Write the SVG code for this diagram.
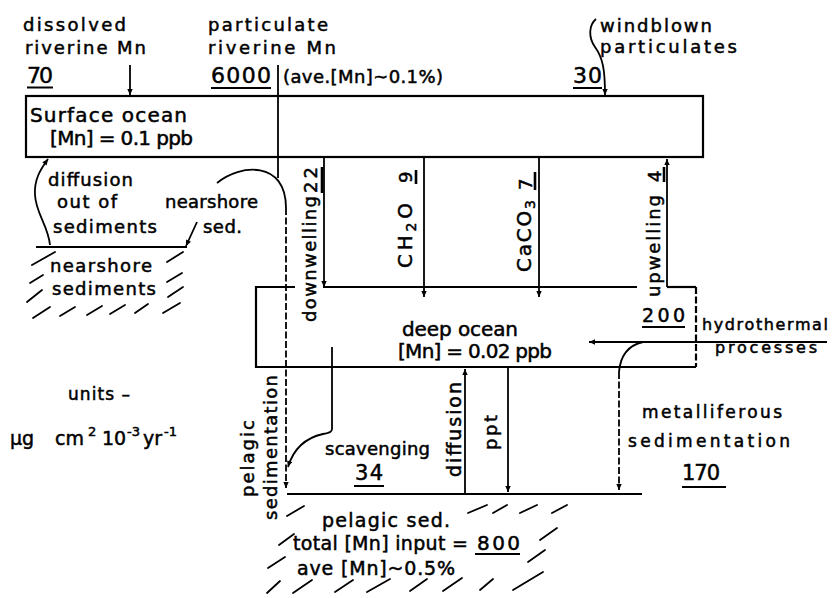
<svg xmlns="http://www.w3.org/2000/svg" width="833" height="598" viewBox="0 0 833 598">
<style>
.t{font-family:"DejaVu Sans","Liberation Sans",sans-serif;fill:#000;stroke:#000;stroke-width:0.5;}
.s15{font-size:15px}.s16{font-size:16px}.s17{font-size:17px}.s18{font-size:18px}.s19{font-size:19px}.s20{font-size:20px}.s21{font-size:21px}.s22{font-size:22px}
.ln{stroke:#000;stroke-width:1.8;fill:none;}
.box{stroke:#000;stroke-width:2.2;fill:none;}
.dash{stroke-dasharray:7 2.5;}
.ul{stroke:#000;stroke-width:2;}
.ulv{stroke:#000;stroke-width:2.6;}
.h{stroke:#000;stroke-width:1.8;stroke-linecap:round;}
</style>
<defs>
<marker id="ah" viewBox="0 0 10 10" refX="10" refY="5" markerWidth="7" markerHeight="6" markerUnits="userSpaceOnUse" orient="auto">
<path d="M0,0.5 L10,5 L0,9.5 z" fill="#000"/>
</marker>
</defs>
<rect width="833" height="598" fill="#fff"/>

<g id="inputs-labels">
<text class="t s18" x="23" y="31" textLength="103">dissolved</text>
<text class="t s18" x="25" y="54" textLength="121">riverine Mn</text>
<text class="t s22" x="27" y="83" textLength="26">70</text>
<line class="ul" x1="27" y1="87.5" x2="53" y2="87.5"/>
<text class="t s18" x="208" y="31" textLength="120">particulate</text>
<text class="t s18" x="208" y="54" textLength="128">riverine Mn</text>
<text class="t s22" x="211" y="83" textLength="60">6000</text>
<line class="ul" x1="211" y1="88" x2="271" y2="88"/>
<text class="t s18" x="283" y="83" textLength="160">(ave.[Mn]~0.1%)</text>
<text class="t s18" x="600" y="32" textLength="112">windblown</text>
<text class="t s18" x="600" y="53" textLength="137">particulates</text>
<text class="t s22" x="573" y="83" textLength="29">30</text>
<line class="ul" x1="573" y1="88" x2="602" y2="88"/>
</g>

<g id="surface-ocean">
<rect class="box" x="26" y="96" width="677" height="61"/>
<text class="t s20" x="30" y="122" textLength="157">Surface ocean</text>
<text class="t s20" x="50" y="145" textLength="143">[Mn] = 0.1 ppb</text>
</g>

<g id="nearshore-labels">
<text class="t s18" x="48" y="186" textLength="85">diffusion</text>
<text class="t s18" x="57" y="208" textLength="60">out of</text>
<text class="t s18" x="53" y="233" textLength="104">sediments</text>
<text class="t s18" x="165" y="208" textLength="93">nearshore</text>
<text class="t s18" x="203" y="233" textLength="39">sed.</text>
</g>

<g id="nearshore-sediments">
<line class="box" x1="36" y1="247" x2="187" y2="247"/>
<text class="t s18" x="50" y="272" textLength="102">nearshore</text>
<text class="t s18" x="52" y="295" textLength="104">sediments</text>
<g class="h">
<line x1="32" y1="265" x2="55" y2="252"/><line x1="167" y1="262" x2="183" y2="252"/>
<line x1="30" y1="283" x2="43" y2="275"/><line x1="167" y1="282" x2="182" y2="273"/>
<line x1="27" y1="302" x2="42" y2="290"/><line x1="168" y1="297" x2="183" y2="287"/>
<line x1="33" y1="318" x2="50" y2="307"/><line x1="60" y1="316" x2="75" y2="307"/>
<line x1="87" y1="315" x2="102" y2="306"/><line x1="110" y1="314" x2="125" y2="305"/>
<line x1="135" y1="313" x2="148" y2="304"/><line x1="163" y1="313" x2="180" y2="303"/>
</g>
</g>

<g id="deep-ocean">
<path class="box" d="M295,287 H256 V367 H696"/>
<path class="box" d="M323,287 H637"/>
<path class="box" d="M667,287 H696"/>
<path class="box dash" d="M696,287 V367"/>
<text class="t s20" x="402" y="336" textLength="116">deep ocean</text>
<text class="t s20" x="398" y="358" textLength="154">[Mn] = 0.02 ppb</text>
<text class="t s19" x="642" y="322" textLength="43">200</text>
<line class="ul" x1="642" y1="327" x2="685" y2="327"/>
</g>

<g id="hydrothermal">
<text class="t s16" x="702" y="330" textLength="126">hydrothermal</text>
<text class="t s16" x="715" y="353" textLength="102">processes</text>
</g>

<g id="units">
<text class="t s17" x="68" y="400" textLength="62">units –</text>
<text class="t" font-size="19" y="445"><tspan x="10">μg</tspan><tspan x="55">cm</tspan><tspan x="88" y="436" font-size="13">2</tspan><tspan x="102" y="445">10</tspan><tspan x="127" y="436" font-size="13">-3</tspan><tspan x="143" y="445">yr</tspan><tspan x="164" y="436" font-size="13">-1</tspan></text>
</g>

<g id="metalliferous">
<text class="t s17" x="642" y="418" textLength="140">metalliferous</text>
<text class="t s17" x="628" y="447" textLength="162">sedimentation</text>
<text class="t s21" x="682" y="480" textLength="38">170</text>
<line class="ul" x1="682" y1="487" x2="726" y2="487"/>
</g>

<g id="flux-labels">
<text class="t s18" transform="translate(316,322) rotate(-90)" textLength="126">downwelling</text>
<text class="t s18" transform="translate(317,193) rotate(-90)" textLength="26">22</text>
<line class="ulv" x1="322" y1="167" x2="322" y2="193"/>
<text class="t s20" transform="translate(412,268) rotate(-90)" textLength="65">CH<tspan dy="4" font-size="14">2</tspan><tspan dy="-4">O</tspan></text>
<text class="t s18" transform="translate(412,183) rotate(-90)" textLength="13">9</text>
<line class="ulv" x1="416" y1="170" x2="416" y2="184"/>
<text class="t s20" transform="translate(531,272) rotate(-90)" textLength="72">CaCO<tspan dy="4" font-size="14">3</tspan></text>
<text class="t s18" transform="translate(532,190) rotate(-90)" textLength="16">7</text>
<line class="ulv" x1="535" y1="172" x2="535" y2="190"/>
<text class="t s18" transform="translate(660,297) rotate(-90)" textLength="102">upwelling</text>
<text class="t s18" transform="translate(661,182) rotate(-90)" textLength="15">4</text>
<line class="ulv" x1="664" y1="167" x2="664" y2="182"/>
<text class="t s19" transform="translate(461,477) rotate(-90)" textLength="95">diffusion</text>
<text class="t s18" transform="translate(497,450) rotate(-90)" textLength="35">ppt</text>
<text class="t s18" transform="translate(254,497) rotate(-90)" textLength="77">pelagic</text>
<text class="t s18" transform="translate(277,520) rotate(-90)" textLength="145">sedimentation</text>
<text class="t s18" x="325" y="455" textLength="105">scavenging</text>
<text class="t s21" x="355" y="480" textLength="28">34</text>
<line class="ul" x1="354" y1="486" x2="384" y2="486"/>
</g>

<g id="pelagic-sed">
<line class="box" x1="287" y1="494" x2="642" y2="494"/>
<text class="t s19" x="322" y="527" textLength="128">pelagic sed.</text>
<text class="t s19" x="293" y="550" textLength="175">total [Mn] input =</text>
<text class="t s20" x="477" y="550" textLength="43">800</text>
<line class="ul" x1="475" y1="554" x2="520" y2="554"/>
<text class="t s19" x="297" y="575" textLength="158">ave [Mn]~0.5%</text>
<g class="h">
<line x1="287" y1="516" x2="304" y2="506"/>
<line x1="468" y1="513" x2="487" y2="505"/><line x1="493" y1="513" x2="507" y2="505"/>
<line x1="520" y1="513" x2="537" y2="505"/><line x1="552" y1="513" x2="567" y2="505"/>
<line x1="279" y1="545" x2="294" y2="534"/><line x1="540" y1="540" x2="557" y2="528"/>
<line x1="268" y1="568" x2="285" y2="557"/><line x1="528" y1="562" x2="545" y2="550"/>
<line x1="267" y1="593" x2="280" y2="581"/><line x1="293" y1="593" x2="312" y2="580"/>
<line x1="335" y1="592" x2="353" y2="580"/><line x1="367" y1="592" x2="390" y2="579"/>
<line x1="410" y1="591" x2="427" y2="579"/><line x1="443" y1="591" x2="462" y2="578"/>
<line x1="480" y1="590" x2="493" y2="579"/><line x1="513" y1="590" x2="543" y2="572"/>
</g>
</g>

<g id="connectors">
<path class="ln" d="M130,65 V95" marker-end="url(#ah)"/>
<path class="ln" d="M278,65 V178"/>
<path class="ln" d="M596,19 C589,25 588,37 595,47 C603,58 605,70 605,95" marker-end="url(#ah)"/>
<path class="ln" d="M50,245 C48,225 36,214 35,195 C34,180 40,170 48,159" marker-end="url(#ah)"/>
<path class="ln" d="M197,222 L186,246" marker-end="url(#ah)"/>
<path class="ln" d="M217,183 C240,164 286,160 286,208"/>
<path class="ln dash" d="M286,208 V488" marker-end="url(#ah)"/>
<path class="ln" d="M324,158 V287" marker-end="url(#ah)"/>
<path class="ln" d="M424,158 V297" marker-end="url(#ah)"/>
<path class="ln" d="M539,158 V297" marker-end="url(#ah)"/>
<path class="ln" d="M667,287 V159" marker-end="url(#ah)"/>
<path class="ln" d="M827,342 H589" marker-end="url(#ah)"/>
<path class="ln" d="M643,342 Q621,347 619,372"/>
<path class="ln dash" d="M619,372 V490" marker-end="url(#ah)"/>
<path class="ln" d="M332,347 V429 Q332,433 323,434 Q296,440 288,467" marker-end="url(#ah)"/>
<path class="ln" d="M465,494 V369" marker-end="url(#ah)"/>
<path class="ln" d="M508,367 V492" marker-end="url(#ah)"/>
</g>
</svg>
